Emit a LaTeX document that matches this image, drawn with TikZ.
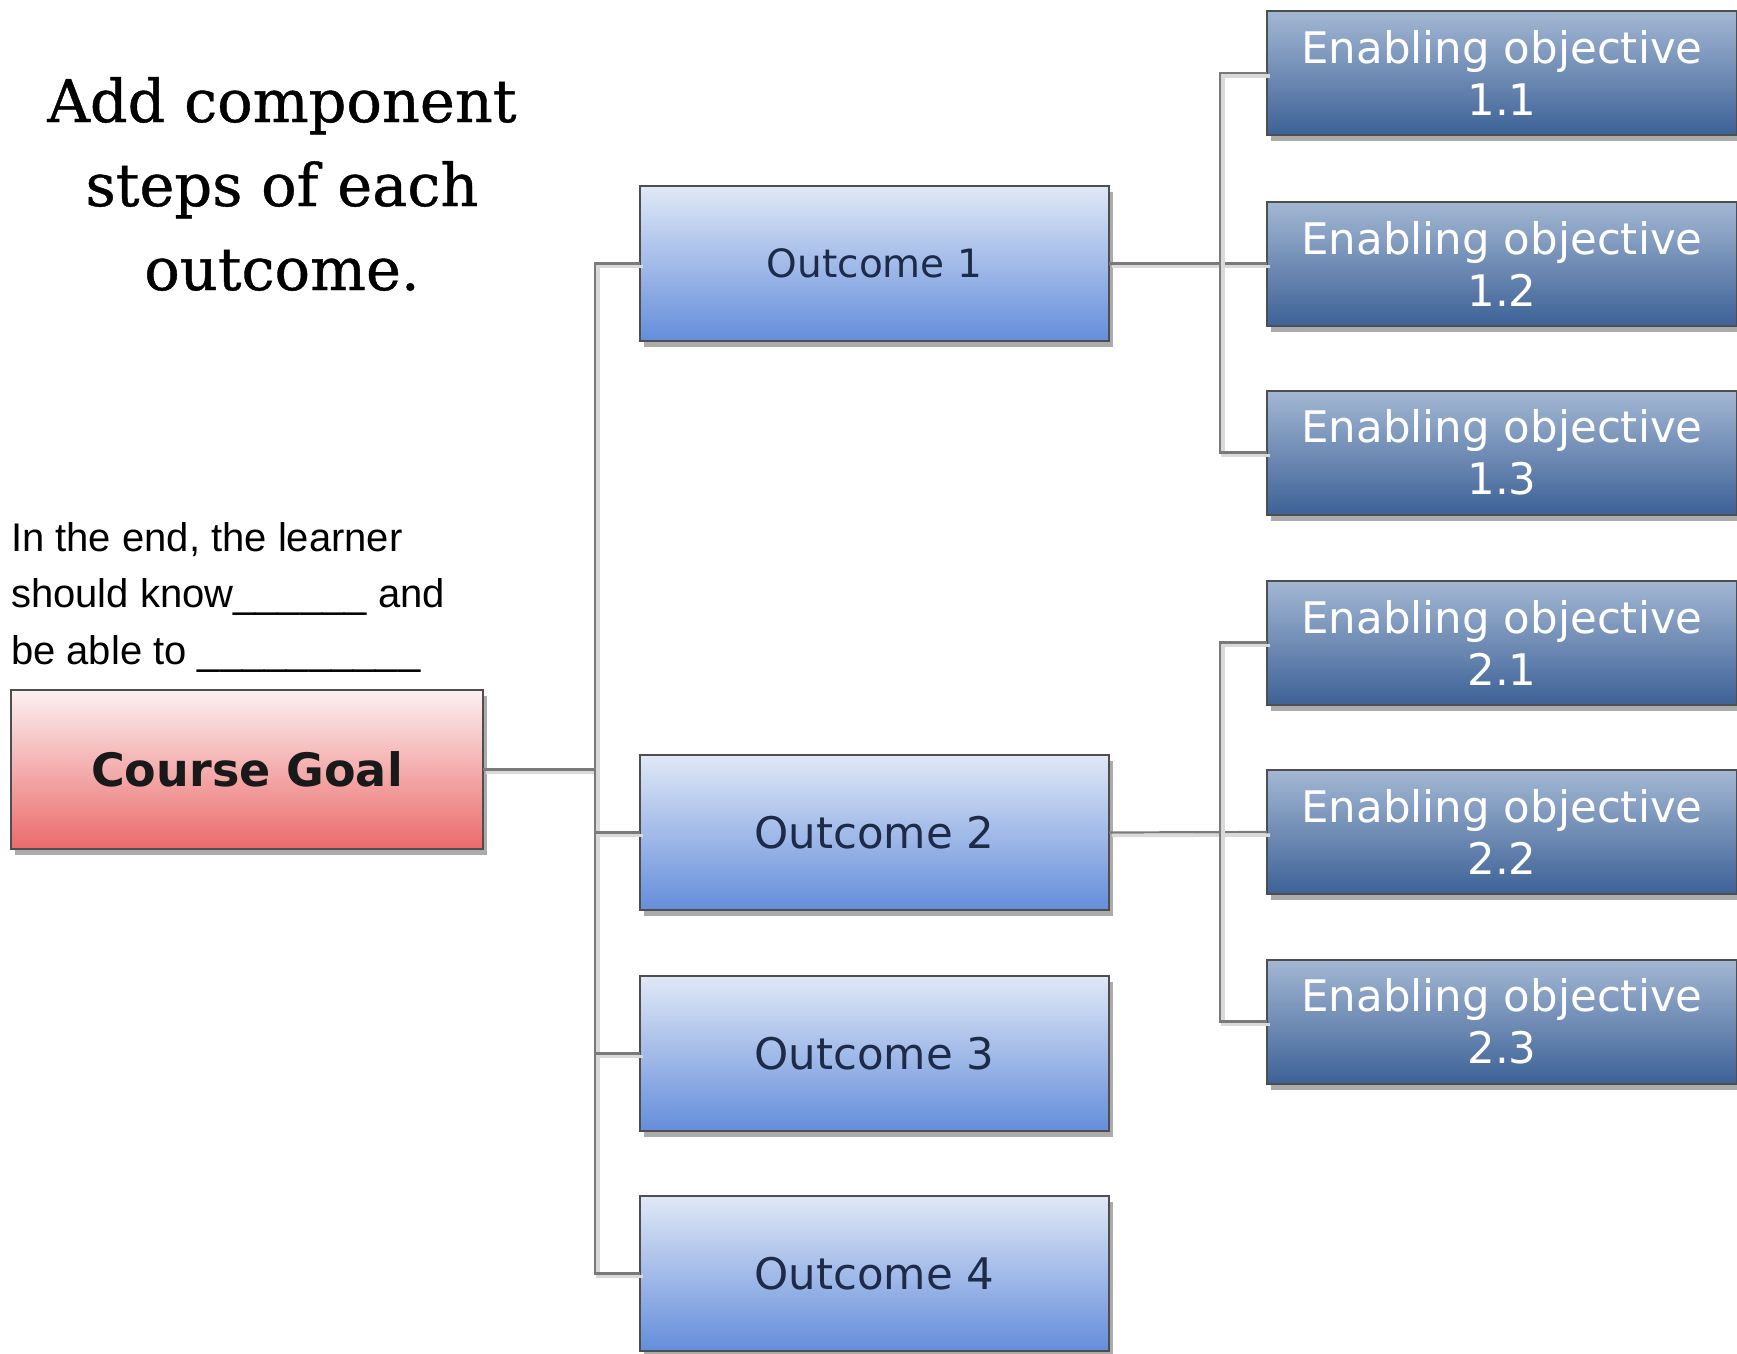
\documentclass[tikz,border=0pt]{standalone}
\usepackage{fontspec}
\usetikzlibrary{shadows}
\newfontfamily\vfont{DejaVu Sans}
\newfontfamily\tfont[FakeBold=0.7]{DejaVu Serif}
\newfontfamily\afont{Liberation Sans}
\definecolor{boxline}{HTML}{4E4E4E}
\definecolor{goaltop}{HTML}{FCF0F1}
\definecolor{goalbot}{HTML}{EB6A6A}
\definecolor{outtop}{HTML}{E0E8F6}
\definecolor{outbot}{HTML}{648DDB}
\definecolor{outtext}{HTML}{1D2B48}
\definecolor{entop}{HTML}{A3B7D3}
\definecolor{enbot}{HTML}{3D6297}
\definecolor{connc}{HTML}{7A7A7A}
\begin{document}
\begin{tikzpicture}[x=1pt,y=-1pt,
  box/.style={draw=boxline, line width=2pt, inner sep=0pt, outer sep=0pt, align=center,
    drop shadow={shadow xshift=4pt, shadow yshift=-6pt, opacity=0.5, fill=black!65}},
  goalbox/.style={box, minimum width=472pt, minimum height=159pt, top color=goaltop, bottom color=goalbot,
    text=black!90, font=\vfont\bfseries\fontsize{46}{54}\selectfont},
  outbox/.style={box, minimum width=469pt, minimum height=155pt, top color=outtop, bottom color=outbot,
    text=outtext, font=\vfont\fontsize{43.5}{50}\selectfont},
  enbox/.style={box, minimum width=470pt, minimum height=124pt, top color=entop, bottom color=enbot,
    text=white, font=\vfont\fontsize{43.5}{52}\selectfont},
  conn/.style={draw=connc, line width=2.2pt,
    preaction={draw=black!15, line width=3.5pt, transform canvas={xshift=3pt,yshift=-3pt}}}]
\fill[white] (0,0) rectangle (1737,1354);
\useasboundingbox (0,0) rectangle (1737,1354);

% title and prompt
\node[font=\tfont\fontsize{59}{84}\selectfont, align=center, anchor=north, inner sep=0pt] (title) at (282,77)
  {Add component\\steps of each\\outcome.};
\node[font=\afont\fontsize{40}{56.5}\selectfont, align=left, anchor=north west, inner sep=0pt] (prompt) at (11,522)
  {In the end, the learner\\should know\_\_\_\_\_\_ and\\be able to \_\_\_\_\_\_\_\_\_\_};

% boxes
\node[goalbox] (goal) at (247,769.5) {Course Goal};
\node[outbox, font=\vfont\fontsize{39}{46}\selectfont] (o1) at (874.5,263.5) {Outcome 1};
\node[outbox] (o2) at (874.5,832.5) {Outcome 2};
\node[outbox] (o3) at (874.5,1053.5) {Outcome 3};
\node[outbox] (o4) at (874.5,1273.5) {Outcome 4};
\node[enbox] (e11) at (1502,73) {Enabling objective\\1.1};
\node[enbox] (e12) at (1502,263.5) {Enabling objective\\1.2};
\node[enbox] (e13) at (1502,452.5) {Enabling objective\\1.3};
\node[enbox] (e21) at (1502,642.5) {Enabling objective\\2.1};
\node[enbox] (e22) at (1502,832) {Enabling objective\\2.2};
\node[enbox] (e23) at (1502,1021.5) {Enabling objective\\2.3};

% spine coordinates
\coordinate (sa) at (595,0);
\coordinate (sb) at (1220,0);

% connectors
\draw[conn] (goal.east) -- (goal.east -| sa);
\draw[conn] (o1.west) -- (o1.west -| sa) -- (o4.west -| sa) -- (o4.west);
\draw[conn] (o2.west) -- (o2.west -| sa);
\draw[conn] (o3.west) -- (o3.west -| sa);

\draw[conn] (o1.east) -- (e12.west);
\draw[conn] (e11.west) -- (e11.west -| sb) -- (e13.west -| sb) -- (e13.west);
\draw[conn] (o2.east) -- (e22.west);
\draw[conn] (e21.west) -- (e21.west -| sb) -- (e23.west -| sb) -- (e23.west);
\end{tikzpicture}
\end{document}
